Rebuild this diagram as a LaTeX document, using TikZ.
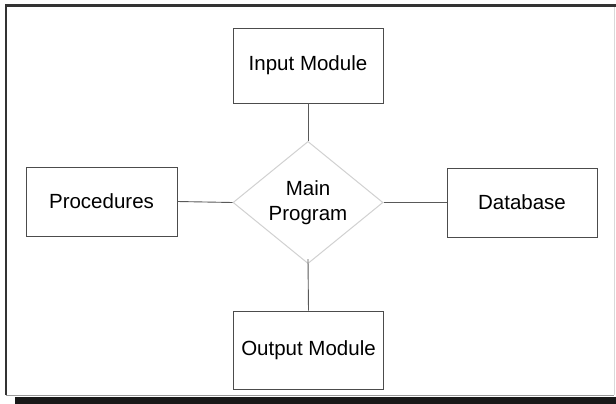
\documentclass[tikz,border=0pt]{standalone}
\usepackage{fontspec}
\setmainfont{Liberation Sans}
\usetikzlibrary{shapes.geometric}
\begin{document}
\begin{tikzpicture}[x=1pt,y=-1pt,
  modbox/.style={draw=black!70, line width=0.9pt, fill=white, inner sep=0pt,
    minimum width=150pt, font=\fontsize{20.5}{24}\selectfont},
  hub/.style={diamond, draw=black!18, line width=1pt, inner sep=0pt,
    minimum width=150pt, minimum height=110pt, align=center,
    font=\fontsize{20.5}{24.5}\selectfont},
  link/.style={draw=black!65, line width=0.9pt}]
  \useasboundingbox (0,0) rectangle (616,404);
  \fill[white] (0,0) rectangle (616,404);
  % frame with a heavy shadow along the bottom
  \fill[black!90] (15,397) rectangle (616,404);
  \draw[black!15, line width=0.8pt] (614,6) -- (614,395);
  \draw[black!40, line width=0.8pt] (6,395) -- (614,395);
  \draw[black!80, line width=2.2pt] (6,395) -- (6,5.5) -- (616,5.5);
  % modules
  \node[modbox, minimum height=75pt] (in)  at (308,65.5)  {Input Module};
  \node[modbox, minimum height=78pt] (out) at (308.5,350) {Output Module};
  \node[modbox, minimum height=69pt, minimum width=151pt] (proc) at (101.5,201.5) {Procedures};
  \node[modbox, minimum height=69pt] (db)  at (522,202.5) {Database};
  \node[hub] (main) at (308,202.5) {Main\\Program};
  % connectors
  \draw[link] (in.south) -- (main.north);
  \draw[link] (main.south) ++(0,-5) -- (out.north);
  \draw[link] (proc.east) -- (main.west);
  \draw[link] (main.east) -- (db.west);
\end{tikzpicture}
\end{document}
